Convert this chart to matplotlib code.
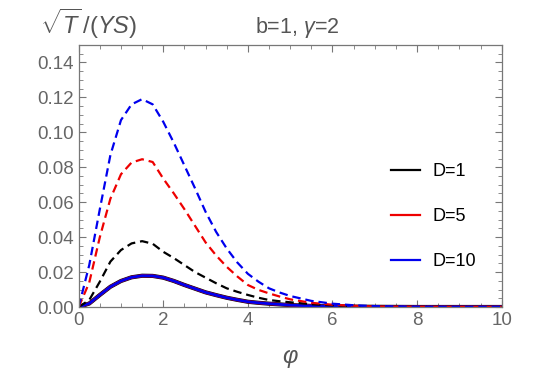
import matplotlib
matplotlib.use("Agg")
import matplotlib.pyplot as plt
from matplotlib.lines import Line2D
from matplotlib.ticker import MultipleLocator

plt.rcParams['font.family'] = ['Liberation Sans', 'DejaVu Sans']
plt.rcParams['mathtext.fontset'] = 'custom'
plt.rcParams['mathtext.rm'] = 'Liberation Sans'
plt.rcParams['mathtext.it'] = 'Liberation Sans:italic'

# datos
phi = [0, 0.25, 0.5, 0.75, 1.0, 1.25, 1.5, 1.75, 2.0, 2.25, 2.5, 2.75, 3.0,
       3.25, 3.5, 3.75, 4.0, 4.25, 4.5, 4.75, 5.0, 5.5, 6.0, 6.5, 7, 8, 9, 10]

# curvas discontinuas
d1_dash = [0, 0.004, 0.0145, 0.026, 0.0326, 0.0364, 0.0377, 0.0362, 0.0316,
           0.028, 0.024, 0.020, 0.0168, 0.0136, 0.0107, 0.0087, 0.0069, 0.0053,
           0.0040, 0.0033, 0.0027, 0.0016, 0.0009, 0.0005, 0.0003, 0.0001, 0, 0]
d5_dash = [0, 0.014, 0.040, 0.062, 0.076, 0.0827, 0.0846, 0.083, 0.0735,
           0.065, 0.056, 0.0465, 0.037, 0.0295, 0.023, 0.0175, 0.0126, 0.0098,
           0.0078, 0.0060, 0.0044, 0.0024, 0.0013, 0.0007, 0.0003, 0.0001, 0, 0]
d10_dash = [0, 0.024, 0.056, 0.087, 0.107, 0.116, 0.119, 0.116, 0.106, 0.094,
            0.081, 0.068, 0.0545, 0.043, 0.0335, 0.0255, 0.019, 0.0145, 0.0107,
            0.0083, 0.0063, 0.0035, 0.0019, 0.0010, 0.0005, 0.0001, 0, 0]

# curvas continuas (casi iguales para los tres D)
solid = [0, 0.002, 0.0069, 0.0116, 0.0149, 0.017, 0.0179, 0.0178, 0.0168,
         0.0149, 0.0126, 0.0105, 0.0084, 0.0068, 0.0053, 0.0041, 0.0030,
         0.0024, 0.0019, 0.0015, 0.0011, 0.0006, 0.0003, 0.0002, 0.0001, 0, 0, 0]

etiquetas = ["D=1", "D=5", "D=10"]
colores = ["black", "#ee0000", "#0000ee"]

fig = plt.figure(figsize=(5.4, 3.71), dpi=100)
ax = fig.add_axes([0.1457, 0.1725, 0.7833, 0.7062])

gris = "#777777"

ax.plot(phi, solid, color=colores[0], lw=3.0)
ax.plot(phi, solid, color=colores[1], lw=2.2)
ax.plot(phi, solid, color=colores[2], lw=2.0)

for serie, c in zip([d1_dash, d5_dash, d10_dash], colores):
    ax.plot(phi, serie, color=c, lw=1.6, dashes=(3.8, 2.2))

ax.set_xlim(0, 10)
ax.set_ylim(0, 0.15)
ax.xaxis.set_major_locator(MultipleLocator(2))
ax.xaxis.set_minor_locator(MultipleLocator(0.5))
ax.yaxis.set_major_locator(MultipleLocator(0.02))
ax.yaxis.set_minor_locator(MultipleLocator(0.005))
ax.yaxis.set_major_formatter(plt.FormatStrFormatter('%.2f'))

ax.tick_params(which='both', direction='in', top=True, right=True,
               color=gris, labelcolor="#666666", labelsize=13.5)
ax.tick_params(which='major', length=5, width=0.8)
ax.tick_params(which='minor', length=3, width=0.6)
for s in ax.spines.values():
    s.set_color(gris)
    s.set_linewidth(0.9)

manijas = [Line2D([], [], color=c, lw=1.6) for c in colores]
ax.legend(manijas, etiquetas, frameon=False, fontsize=13,
          loc='upper left', bbox_to_anchor=(0.70, 0.61),
          labelspacing=1.55, handlelength=1.6, handletextpad=0.7)

fig.text(0.075, 0.935, r'$\sqrt{T}\,/(YS)$', fontsize=17, color="#555555",
         ha='left', va='center')
fig.text(0.55, 0.927, r'b=1, $\gamma$=2', fontsize=15.5, color="#555555",
         ha='center', va='center')
fig.text(0.537, 0.035, r'$\varphi$', fontsize=17, color="#555555",
         ha='center', va='center')

fig.savefig("out.png", dpi=100)
